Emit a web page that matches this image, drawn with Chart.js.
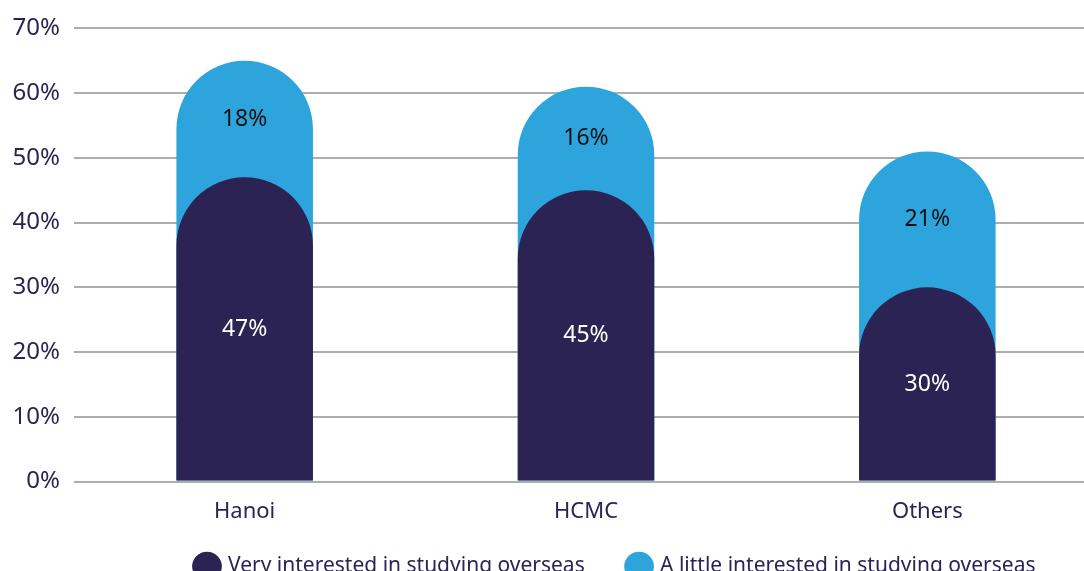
<!DOCTYPE html>
<html>
<head>
<meta charset="utf-8">
<script src="https://cdn.jsdelivr.net/npm/chart.js@4/dist/chart.umd.min.js"></script>
<style>
  html, body { margin: 0; padding: 0; background: #fff; overflow: hidden; }
  #wrap { width: 1098px; height: 595px; }
</style>
</head>
<body>
<div id="wrap"><canvas id="interestChart"></canvas></div>
<script>
// dados
const cities = ['Hanoi', 'HCMC', 'Others'];
const veryInterested = [47, 45, 30];
const littleInterested = [18, 16, 21];
const yTicks = [0, 10, 20, 30, 40, 50, 60, 70];

const NAVY = '#2b2353';
const BLUE = '#2da4dc';
const FONT = '"Noto Sans", sans-serif';

// a barra clara vai do zero até o total, atrás da escura
const totals = veryInterested.map((v, i) => v + littleInterested[i]);

// escreve os percentuais no meio de cada segmento
const segmentLabels = {
  id: 'segmentLabels',
  afterDatasetsDraw(chart) {
    const { ctx, scales: { x, y } } = chart;
    ctx.save();
    ctx.font = '23px ' + FONT;
    ctx.textAlign = 'center';
    ctx.textBaseline = 'middle';
    cities.forEach((c, i) => {
      const cx = x.getPixelForValue(i);
      ctx.fillStyle = '#ffffff';
      ctx.fillText(veryInterested[i] + '%', cx, y.getPixelForValue(veryInterested[i] / 2));
      ctx.fillStyle = '#111111';
      ctx.fillText(littleInterested[i] + '%', cx, y.getPixelForValue(veryInterested[i] + littleInterested[i] / 2));
    });
    ctx.restore();
  }
};

// a legenda do original fica um pouco à direita do centro
const legendShift = {
  id: 'legendShift',
  afterLayout(chart) {
    chart.legend.left += 67;
    chart.legend.right += 67;
    chart.legend.top -= 8;
    chart.legend.bottom -= 8;
  }
};

const ctx = document.getElementById('interestChart').getContext('2d');
new Chart(ctx, {
  type: 'bar',
  data: {
    labels: cities,
    datasets: [
      {
        label: 'Very interested in studying overseas    ',
        data: veryInterested,
        backgroundColor: NAVY,
        borderRadius: 200,
        borderSkipped: 'start'
      },
      {
        label: 'A little interested in studying overseas',
        data: totals,
        backgroundColor: BLUE,
        borderRadius: 200,
        borderSkipped: 'start'
      }
    ]
  },
  options: {
    responsive: true,
    maintainAspectRatio: false,
    animation: false,
    grouped: false,
    categoryPercentage: 1,
    barPercentage: 0.4,
    layout: { padding: { top: 18, left: 0, right: 0, bottom: 0 } },
    scales: {
      x: {
        grid: { display: false, drawTicks: false },
        border: { display: false },
        ticks: { color: NAVY, font: { family: FONT, size: 22 }, padding: 17 }
      },
      y: {
        min: 0,
        max: 70,
        afterBuildTicks: axis => { axis.ticks = yTicks.map(v => ({ value: v })); },
        afterFit: axis => { axis.width = 74; },
        grid: { color: '#adadad', lineWidth: 2, drawTicks: false },
        border: { display: false },
        ticks: {
          color: NAVY,
          font: { family: FONT, size: 24 },
          padding: 14,
          callback: v => v + '%'
        }
      }
    },
    plugins: {
      legend: {
        position: 'bottom',
        labels: {
          usePointStyle: true,
          pointStyle: 'circle',
          boxWidth: 22,
          boxHeight: 22,
          padding: 22,
          color: NAVY,
          font: { family: FONT, size: 21 }
        }
      },
      tooltip: { enabled: false }
    }
  },
  plugins: [segmentLabels, legendShift]
});
</script>
</body>
</html>
